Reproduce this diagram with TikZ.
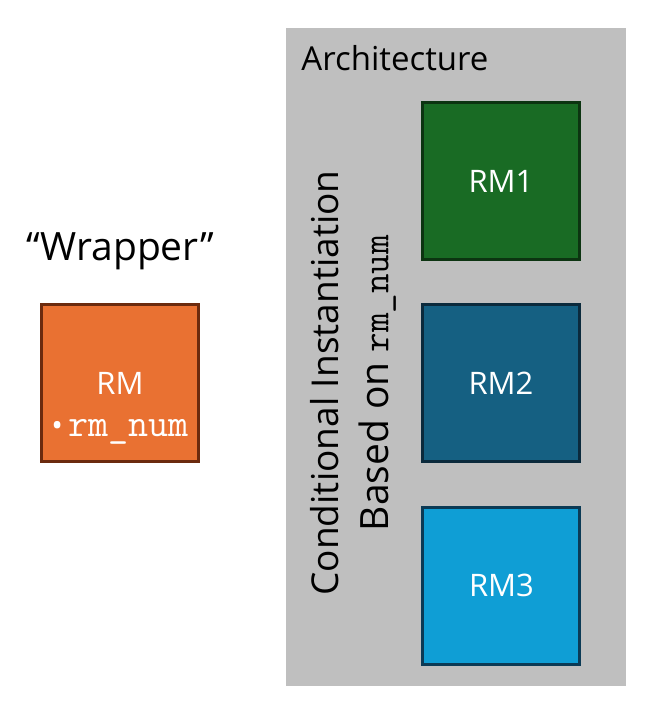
\documentclass[tikz,border=0pt]{standalone}
\usepackage{fontspec}
\setmainfont{Open Sans}
\setsansfont{Open Sans}
\renewcommand{\familydefault}{\sfdefault}
\definecolor{archfill}{HTML}{BFBFBF}
\definecolor{rmfill}{HTML}{E97132}
\definecolor{rmedge}{HTML}{6B2A0E}
\definecolor{onefill}{HTML}{196B24}
\definecolor{oneedge}{HTML}{0C3411}
\definecolor{twofill}{HTML}{156082}
\definecolor{twoedge}{HTML}{0B2A3C}
\definecolor{threefill}{HTML}{0F9ED5}
\definecolor{threeedge}{HTML}{0B3A55}
\tikzset{
  rmbox/.style={rectangle, draw=#1edge, fill=#1fill, line width=1.5pt, minimum size=78.5pt, inner sep=0pt, text=white, font=\fontsize{15.5}{18}\selectfont},
  archbox/.style={rectangle, fill=archfill, minimum width=170pt, minimum height=329pt, inner sep=0pt},
  archtitle/.style={font=\fontsize{16.5}{18}\selectfont, anchor=west, inner sep=0pt},
  wraptitle/.style={font=\fontsize{19.5}{22}\selectfont},
  sidetext/.style={font=\fontsize{18.5}{25}\selectfont, rotate=90, align=center, inner sep=0pt},
  rmtext/.style={text=white, align=center, inner sep=0pt, font=\fontsize{15.5}{21}\selectfont}
}
\begin{document}
\begin{tikzpicture}[x=0.5pt,y=0.5pt]
  \useasboundingbox (0,0) rectangle (663,720);

  % wrapper side
  \node[wraptitle] (wrapper) at (120,469) {``Wrapper''};
  \node[rmbox=rm] (rm) at (120,337) {};
  \node[rmtext] (rmlabel) at (120,312) {RM\\\textbullet\,{\ttfamily\fontsize{19.5}{21}\selectfont rm\_num}};

  % architecture side
  \node[archbox] (arch) at (456,363) {};
  \node[archtitle] (archtitle) at (301,662) {Architecture};
  \node[sidetext] (cond) at (353,337) {Conditional Instantiation\\{\fontsize{19.5}{25}\selectfont Based on} {\ttfamily\fontsize{19}{25}\selectfont rm\_num}};
  \node[rmbox=one] (rm1) at (501,539) {RM1};
  \node[rmbox=two] (rm2) at (501,337) {RM2};
  \node[rmbox=three] (rm3) at (501.5,134.5) {RM3};
\end{tikzpicture}
\end{document}
